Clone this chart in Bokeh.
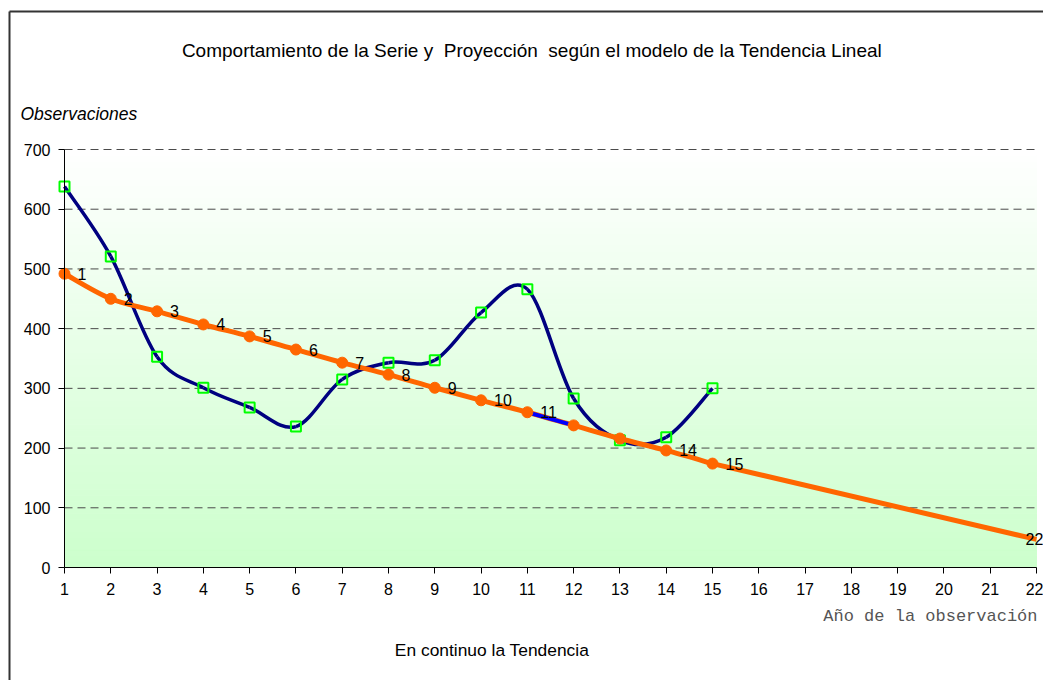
import numpy as np
from bokeh.plotting import figure
from bokeh.models import Label, Range1d, FixedTicker, ColumnDataSource
from bokeh.core.properties import value
from bokeh.embed import file_html
from bokeh.resources import INLINE

# ---------------- data ----------------
periodo = [1, 2, 3, 4, 5, 6, 7, 8, 9, 10, 11, 12, 13, 14, 15]
observado = [638, 521, 353, 301, 268, 236, 315, 343, 347, 427, 466, 283, 213, 218, 300]
periodo_tend = [1, 2, 3, 4, 5, 6, 7, 8, 9, 10, 11, 12, 13, 14, 15, 22]
tendencia = [492, 450, 429, 407, 387, 365, 343, 323, 301, 280, 260, 238, 216, 196, 174, 47]
etiquetas = [1, 2, 3, 4, 5, 6, 7, 8, 9, 10, 11, 14, 15]
x_ticks = list(range(1, 23))
y_ticks = [0, 100, 200, 300, 400, 500, 600, 700]

titulo = "Comportamiento de la Serie y \u00a0Proyección \u00a0según el modelo de la Tendencia Lineal"
eje_y = "Observaciones"
eje_x = "Año de la observación"
nota = "En continuo la Tendencia"

FONT = "Liberation Sans"
W, H = 1043, 680
# plot-area placement on the page (pixels)
L_PX, R_PX, T_PX, B_PX = 64, 1036, 149, 567
PX = (R_PX - L_PX) / (x_ticks[-1] - x_ticks[0])
PY = (B_PX - T_PX) / (y_ticks[-1] - y_ticks[0])


def X(px):
    return x_ticks[0] + (px - L_PX) / PX


def Y(py):
    return y_ticks[0] + (B_PX - py) / PY


def catmull_bezier(xs, ys):
    xs = list(map(float, xs)); ys = list(map(float, ys))
    n = len(xs)
    out = dict(x0=[], y0=[], x1=[], y1=[], cx0=[], cy0=[], cx1=[], cy1=[])
    for i in range(n - 1):
        i0 = max(i - 1, 0); i3 = min(i + 2, n - 1)
        out["x0"].append(xs[i]); out["y0"].append(ys[i])
        out["x1"].append(xs[i + 1]); out["y1"].append(ys[i + 1])
        out["cx0"].append(xs[i] + (xs[i + 1] - xs[i0]) / 6.0)
        out["cy0"].append(ys[i] + (ys[i + 1] - ys[i0]) / 6.0)
        out["cx1"].append(xs[i + 1] - (xs[i3] - xs[i]) / 6.0)
        out["cy1"].append(ys[i + 1] - (ys[i3] - ys[i]) / 6.0)
    return out


p = figure(width=W, height=H, output_backend="svg", toolbar_location=None,
           x_range=Range1d(X(0), X(W)), y_range=Range1d(Y(H), Y(0)),
           min_border_left=0, min_border_right=0, min_border_top=0, min_border_bottom=0)
p.outline_line_color = None
p.background_fill_color = "white"
p.border_fill_color = "white"
p.xgrid.visible = False
p.ygrid.visible = False

# outer chart border (left and top edges visible)
p.segment(x0=[X(9), X(9)], y0=[Y(11), Y(11)], x1=[X(9), X(W + 5)], y1=[Y(H + 5), Y(11)],
          line_color="#333333", line_width=2)

# gradient background of plot area
edges = np.linspace(y_ticks[0], y_ticks[-1], 71)
cols = []
for b in edges[:-1]:
    t = (b + 5) / y_ticks[-1]
    c = int(round(204 + 51 * t))
    cols.append("#%02x%02x%02x" % (c, 255, c))
p.quad(left=x_ticks[0], right=x_ticks[-1], bottom=edges[:-1], top=edges[1:],
       fill_color=cols, line_color=cols, line_width=1)

# dashed gridlines
gy = y_ticks[1:]
p.segment(x0=[x_ticks[0]] * len(gy), x1=[x_ticks[-1]] * len(gy), y0=gy, y1=gy,
          line_color="#4a4a4a", line_width=1, line_dash="8 5")

# observed series, smoothed
bo = catmull_bezier(periodo, observado)
p.bezier(source=ColumnDataSource(bo), x0="x0", y0="y0", x1="x1", y1="y1",
         cx0="cx0", cy0="cy0", cx1="cx1", cy1="cy1", line_color="#000080", line_width=3.5)
p.scatter(periodo, observado, marker="square", size=10, fill_color=None,
          line_color="#00FF00", line_width=2)

# trend over observed period + projection
bt = catmull_bezier(periodo_tend[:15], tendencia[:15])
p.bezier(source=ColumnDataSource(bt), x0="x0", y0="y0", x1="x1", y1="y1",
         cx0="cx0", cy0="cy0", cx1="cx1", cy1="cy1", line_color="#FF6600", line_width=5)
p.line(periodo_tend[14:], tendencia[14:], line_color="#FF6600", line_width=5)
p.line(periodo_tend[10:12], tendencia[10:12], line_color="#0000FF", line_width=4)
p.scatter(periodo_tend[:15], tendencia[:15], marker="circle", size=11,
          fill_color="#FF6600", line_color="#FF6600")

# data labels
tmap = dict(zip(periodo_tend, tendencia))
p.text(x=etiquetas, y=[tmap[k] for k in etiquetas], text=[str(k) for k in etiquetas],
       x_offset=13, text_baseline="middle", text_align="left",
       text_font=value(FONT), text_font_size="16px", text_color="black")
p.text(x=periodo_tend[15:], y=tendencia[15:], text=[str(v) for v in periodo_tend[15:]],
       x_offset=-2, text_baseline="middle", text_align="center",
       text_font=value(FONT), text_font_size="16px", text_color="black")

# axes
for ax in (p.xaxis[0], p.yaxis[0]):
    ax.axis_line_color = "black"
    ax.axis_line_width = 1
    ax.major_tick_line_color = "black"
    ax.major_tick_out = 6
    ax.major_tick_in = 0
    ax.minor_tick_line_color = None
    ax.major_label_text_font = FONT
    ax.major_label_text_font_size = "16px"
    ax.major_label_text_color = "black"
p.xaxis[0].ticker = FixedTicker(ticks=x_ticks)
p.xaxis[0].bounds = (x_ticks[0], x_ticks[-1])
p.xaxis[0].fixed_location = y_ticks[0]
p.xaxis[0].major_label_standoff = 9
p.yaxis[0].ticker = FixedTicker(ticks=y_ticks)
p.yaxis[0].bounds = (y_ticks[0], y_ticks[-1])
p.yaxis[0].fixed_location = x_ticks[0]
p.yaxis[0].major_label_standoff = 8

# texts
p.add_layout(Label(x=X(531.5), y=Y(50), text=titulo, text_align="center",
                   text_baseline="middle", text_font=FONT, text_font_size="19px",
                   text_color="black"))
p.add_layout(Label(x=X(20), y=Y(113), text=eje_y,
                   text_align="left", text_baseline="middle", text_font=FONT,
                   text_font_size="17.5px", text_font_style="italic", text_color="black"))
p.add_layout(Label(x=X(1037), y=Y(616), text=eje_x,
                   text_align="right", text_baseline="middle", text_font="Liberation Mono",
                   text_font_size="17px", text_color="#555555"))
p.add_layout(Label(x=X(491.5), y=Y(649), text=nota, text_align="center",
                   text_baseline="middle", text_font=FONT, text_font_size="17.4px",
                   text_color="black"))

open("out.html", "w").write(file_html(p, INLINE))
